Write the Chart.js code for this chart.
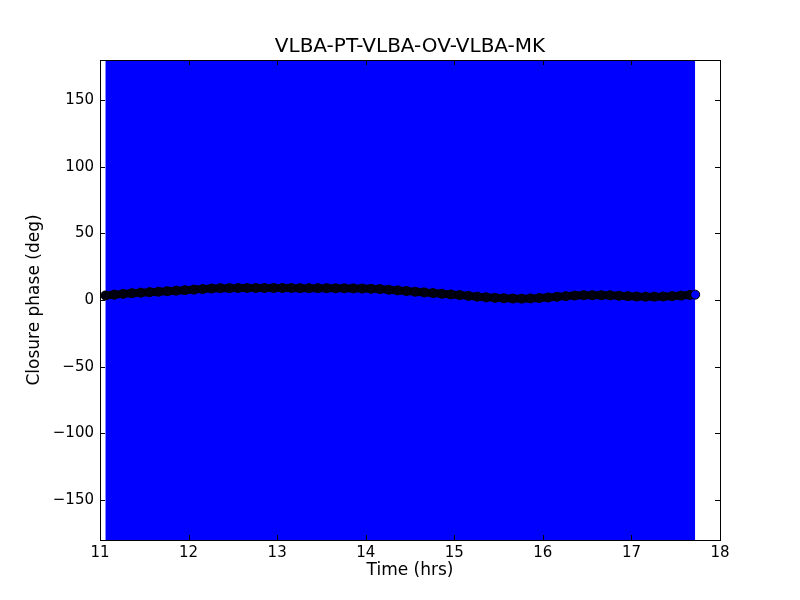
<!DOCTYPE html>
<html>
<head>
<meta charset="utf-8">
<script src="https://cdn.jsdelivr.net/npm/chart.js@4"></script>
<style>
  body { margin: 0; background: #fff; }
  #wrap { width: 800px; height: 600px; }
</style>
</head>
<body>
<div id="wrap"><canvas id="myChart" width="800" height="600"></canvas></div>
<script>
// time of each closure phase point (hrs)
const times = [11.06, 11.16, 11.26, 11.36, 11.46, 11.56, 11.66, 11.76, 11.86, 11.96,
  12.06, 12.16, 12.26, 12.36, 12.46, 12.56, 12.66, 12.76, 12.86, 12.96,
  13.06, 13.16, 13.26, 13.36, 13.46, 13.56, 13.66, 13.76, 13.86, 13.96,
  14.06, 14.16, 14.26, 14.36, 14.46, 14.56, 14.66, 14.76, 14.86, 14.96,
  15.06, 15.16, 15.26, 15.36, 15.46, 15.56, 15.66, 15.76, 15.86, 15.96,
  16.06, 16.16, 16.26, 16.36, 16.46, 16.56, 16.66, 16.76, 16.86, 16.96,
  17.06, 17.16, 17.26, 17.36, 17.46, 17.56, 17.66, 17.72];
// closure phase (deg)
const phases = [3.4, 4.0, 4.6, 5.1, 5.5, 5.9, 6.2, 6.6, 7.0, 7.4,
  7.8, 8.2, 8.6, 8.9, 8.9, 9.0, 9.0, 9.0, 9.0, 9.0,
  9.0, 9.0, 8.9, 8.9, 8.9, 8.9, 8.8, 8.8, 8.7, 8.6,
  8.4, 8.2, 7.7, 7.2, 6.7, 6.2, 5.7, 5.2, 4.7, 4.2,
  3.7, 3.1, 2.5, 2.0, 1.6, 1.3, 1.1, 1.0, 1.2, 1.5,
  1.9, 2.4, 2.9, 3.3, 3.6, 3.6, 3.6, 3.5, 3.2, 2.9,
  2.6, 2.5, 2.5, 2.6, 2.9, 3.3, 3.8, 4.0];
// error band (blue) covering full phase range
const bandTimes = [11.06, 17.72];
const bandLow = -180;
const bandHigh = [180, 180];

const xTicks = [11, 12, 13, 14, 15, 16, 17, 18];
const yTicks = [-150, -100, -50, 0, 50, 100, 150];

const chartTitle = 'VLBA-PT-VLBA-OV-VLBA-MK';
const FONT = 'DejaVu Sans';

// frame, inward ticks and title like matplotlib
const frameTicks = {
    id: 'frameTicks',
    afterDraw(chart) {
        const {ctx, chartArea: a, scales: {x, y}} = chart;
        ctx.save();
        ctx.strokeStyle = '#000';
        ctx.lineWidth = 1;
        ctx.beginPath();
        x.ticks.forEach(t => {
            const px = Math.round(x.getPixelForValue(t.value)) + 0.5;
            ctx.moveTo(px, a.bottom); ctx.lineTo(px, a.bottom - 5);
            ctx.moveTo(px, a.top); ctx.lineTo(px, a.top + 5);
        });
        y.ticks.forEach(t => {
            const py = Math.round(y.getPixelForValue(t.value)) + 0.5;
            ctx.moveTo(a.left, py); ctx.lineTo(a.left + 5, py);
            ctx.moveTo(a.right, py); ctx.lineTo(a.right - 5, py);
        });
        ctx.stroke();
        ctx.strokeRect(Math.round(a.left) + 0.5, Math.round(a.top) + 0.5,
            Math.round(a.right - a.left), Math.round(a.bottom - a.top));

        ctx.fillStyle = '#000';
        ctx.font = '20px "' + FONT + '"';
        ctx.textAlign = 'center';
        ctx.textBaseline = 'middle';
        ctx.fillText(chartTitle, (a.left + a.right) / 2, a.top - 13);
        ctx.restore();
    }
};

function initializeChart() {
    const ctx = document.getElementById('myChart').getContext('2d');
    new Chart(ctx, {
        type: 'scatter',
        data: {
            datasets: [{
                label: 'Closure phase',
                data: times.map((t, i) => ({x: t, y: phases[i]})),
                showLine: true,
                borderColor: '#000010',
                borderWidth: 8,
                pointRadius: 4.5,
                pointBackgroundColor: c => c.dataIndex === times.length - 1 ? '#0000ff' : '#000010',
                pointBorderColor: '#000000',
                pointBorderWidth: 1,
                order: 1
            }, {
                label: 'Error',
                data: bandTimes.map((t, i) => ({x: t, y: bandHigh[i]})),
                showLine: true,
                pointRadius: 0,
                borderWidth: 0,
                borderColor: '#0000ff',
                backgroundColor: '#0000ff',
                fill: {value: bandLow},
                order: 2
            }]
        },
        options: {
            responsive: false,
            animation: false,
            layout: {padding: {left: 0, right: 80, top: 60, bottom: 0}},
            plugins: {
                legend: {display: false},
                tooltip: {enabled: false},
                title: {display: false}
            },
            scales: {
                x: {
                    type: 'linear',
                    min: 11, max: 18,
                    afterBuildTicks: s => { s.ticks = xTicks.map(v => ({value: v})); },
                    afterFit: s => { s.height = 60; },
                    grid: {display: false, drawTicks: false},
                    border: {display: false},
                    ticks: {color: '#000', padding: 4, font: {family: FONT, size: 15}, maxRotation: 0},
                    title: {display: true, text: 'Time (hrs)', color: '#000',
                        font: {family: FONT, size: 17}, padding: {top: 0, bottom: 18.8}}
                },
                y: {
                    min: -180, max: 180,
                    afterBuildTicks: s => { s.ticks = yTicks.map(v => ({value: v})); },
                    afterFit: s => { s.width = 100; },
                    grid: {display: false, drawTicks: false},
                    border: {display: false},
                    ticks: {color: '#000', padding: 6, font: {family: FONT, size: 15},
                        callback: v => v < 0 ? '\u2212' + Math.abs(v) : String(v)},
                    title: {display: true, text: 'Closure phase (deg)', color: '#000',
                        font: {family: FONT, size: 17}, padding: {top: 24.8, bottom: 0}}
                }
            }
        },
        plugins: [frameTicks]
    });
}

document.addEventListener('DOMContentLoaded', function () {
    initializeChart();
});
</script>
</body>
</html>
